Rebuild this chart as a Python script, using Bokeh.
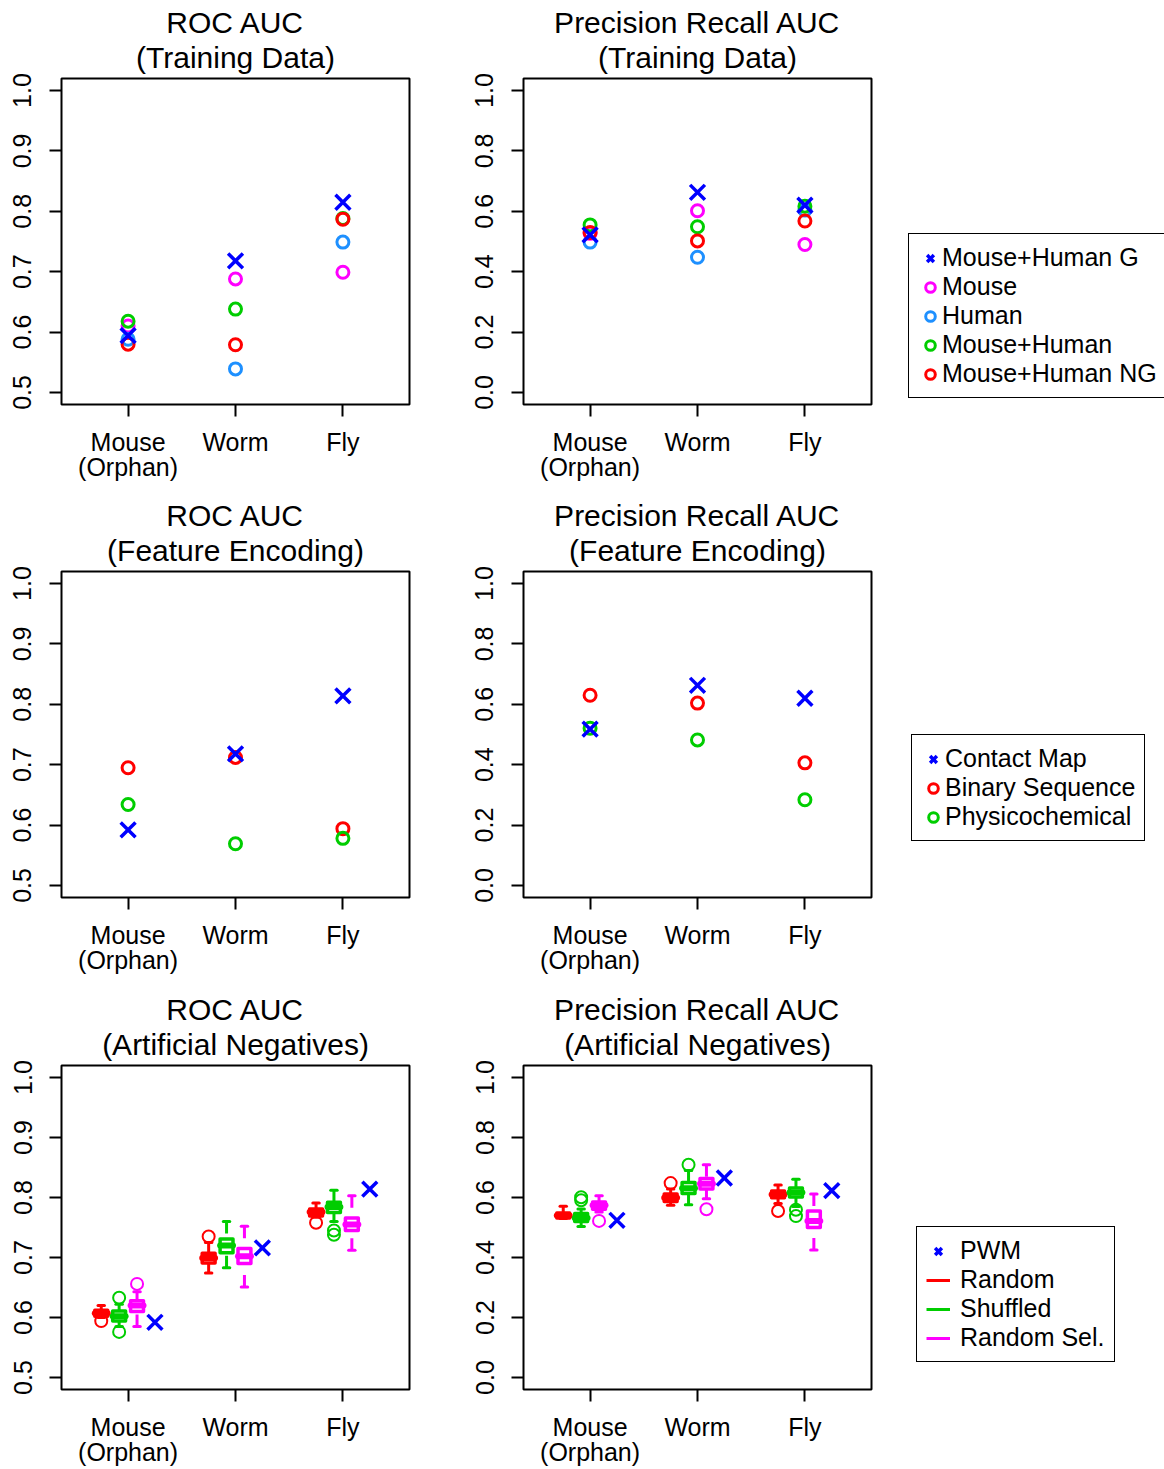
from bokeh.plotting import figure
from bokeh.models import Range1d, FixedTicker, Legend, LegendItem, ColumnDataSource, Title
from bokeh.layouts import column, row
from bokeh.embed import file_html
from bokeh.resources import INLINE

FONT = "Liberation Sans"

# ---------------- data ----------------
group_x = [1, 2, 3]
group_labels = ["Mouse\n(Orphan)", "Worm", "Fly"]

roc_ticks = [0.5, 0.6, 0.7, 0.8, 0.9, 1.0]
roc_tick_labels = ["0.5", "0.6", "0.7", "0.8", "0.9", "1.0"]
pr_ticks = [0.0, 0.2, 0.4, 0.6, 0.8, 1.0]
pr_tick_labels = ["0.0", "0.2", "0.4", "0.6", "0.8", "1.0"]

# Training data panels
train_names = ["Mouse+Human G", "Mouse", "Human", "Mouse+Human", "Mouse+Human NG"]
train_roc_mhg = [0.594, 0.718, 0.815]
train_roc_mouse = [0.610, 0.688, 0.699]
train_roc_human = [0.588, 0.539, 0.749]
train_roc_mh = [0.618, 0.638, 0.788]
train_roc_mhng = [0.580, 0.579, 0.787]

train_pr_mhg = [0.522, 0.663, 0.620]
train_pr_mouse = [0.527, 0.602, 0.490]
train_pr_human = [0.498, 0.448, 0.604]
train_pr_mh = [0.555, 0.549, 0.617]
train_pr_mhng = [0.530, 0.502, 0.568]

# Feature encoding panels
enc_names = ["Contact Map", "Binary Sequence", "Physicochemical"]
enc_roc_contact = [0.592, 0.718, 0.814]
enc_roc_binary = [0.695, 0.712, 0.594]
enc_roc_physico = [0.634, 0.569, 0.578]

enc_pr_contact = [0.518, 0.663, 0.620]
enc_pr_binary = [0.630, 0.604, 0.406]
enc_pr_physico = [0.521, 0.482, 0.284]

# Artificial negatives panels
art_names = ["PWM", "Random", "Shuffled", "Random Sel."]
art_roc_pwm = [0.592, 0.716, 0.814]
art_pr_pwm = [0.524, 0.665, 0.623]

# box statistics: lower whisker, Q1, median, Q3, upper whisker, outliers
roc_random_lw = [0.600, 0.674, 0.767]
roc_random_q1 = [0.602, 0.691, 0.769]
roc_random_med = [0.607, 0.699, 0.776]
roc_random_q3 = [0.612, 0.707, 0.781]
roc_random_uw = [0.620, 0.725, 0.791]
roc_random_out_group = [1, 2, 3]
roc_random_out_value = [0.594, 0.735, 0.758]

roc_shuffled_lw = [0.585, 0.683, 0.760]
roc_shuffled_q1 = [0.594, 0.708, 0.775]
roc_shuffled_med = [0.602, 0.720, 0.784]
roc_shuffled_q3 = [0.611, 0.731, 0.792]
roc_shuffled_uw = [0.622, 0.760, 0.812]
roc_shuffled_out_group = [1, 1, 3, 3]
roc_shuffled_out_value = [0.633, 0.576, 0.745, 0.738]

roc_randsel_lw = [0.585, 0.651, 0.712]
roc_randsel_q1 = [0.610, 0.690, 0.745]
roc_randsel_med = [0.620, 0.702, 0.755]
roc_randsel_q3 = [0.628, 0.715, 0.766]
roc_randsel_uw = [0.643, 0.752, 0.803]
roc_randsel_out_group = [1]
roc_randsel_out_value = [0.656]

pr_random_lw = [0.530, 0.574, 0.580]
pr_random_q1 = [0.532, 0.587, 0.599]
pr_random_med = [0.540, 0.599, 0.610]
pr_random_q3 = [0.548, 0.612, 0.622]
pr_random_uw = [0.571, 0.628, 0.642]
pr_random_out_group = [2, 3]
pr_random_out_value = [0.648, 0.555]

pr_shuffled_lw = [0.503, 0.576, 0.570]
pr_shuffled_q1 = [0.520, 0.613, 0.602]
pr_shuffled_med = [0.532, 0.631, 0.617]
pr_shuffled_q3 = [0.547, 0.650, 0.632]
pr_shuffled_uw = [0.562, 0.690, 0.661]
pr_shuffled_out_group = [1, 1, 2, 3, 3]
pr_shuffled_out_value = [0.601, 0.591, 0.709, 0.559, 0.538]

pr_randsel_lw = [0.552, 0.596, 0.425]
pr_randsel_q1 = [0.561, 0.628, 0.500]
pr_randsel_med = [0.574, 0.646, 0.522]
pr_randsel_q3 = [0.585, 0.663, 0.555]
pr_randsel_uw = [0.606, 0.709, 0.612]
pr_randsel_out_group = [1, 2]
pr_randsel_out_value = [0.522, 0.561]

# ---------------- styling ----------------
BLUE = "#0000FF"
MAGENTA = "#FF00FF"
DODGER = "#1E90FF"
GREEN = "#00CD00"
RED = "#FF0000"

FRAME_W = 348
FRAME_H = 326
COL_W = [470, 421]
LEFT_B = [61, 53]
LEG_W = 273
ROW_H = [493, 494, 482]
TOP_B = 78


def make_fig(col, r, title_top, title_sub, yr, ticks, tick_labels):
    width = COL_W[col]
    height = ROW_H[r]
    lb = LEFT_B[col]
    p = figure(width=width, height=height,
               x_range=Range1d(0.38, 3.62), y_range=Range1d(*yr),
               output_backend="svg", toolbar_location=None,
               min_border_left=lb, min_border_right=width - lb - FRAME_W,
               min_border_top=TOP_B, min_border_bottom=height - TOP_B - FRAME_H,
               background_fill_color="white", border_fill_color="white")
    p.title.text = title_top
    p.title.align = "center"
    p.title.text_font = FONT
    p.title.text_font_size = "30px"
    p.title.text_font_style = "normal"
    p.title.text_color = "black"
    p.title.standoff = -8
    p.add_layout(Title(text=title_sub, align="center", text_font=FONT,
                       text_font_size="30px", text_font_style="normal",
                       text_color="black", standoff=9), "above")
    p.xgrid.visible = False
    p.ygrid.visible = False
    p.outline_line_color = "black"
    p.outline_line_width = 2
    p.outline_line_alpha = 1
    for ax in (p.xaxis[0], p.yaxis[0]):
        ax.axis_line_color = None
        ax.major_tick_line_color = "black"
        ax.major_tick_line_width = 2
        ax.major_tick_out = 12
        ax.major_tick_in = 0
        ax.minor_tick_out = 0
        ax.minor_tick_in = 0
        ax.major_label_text_font = FONT
        ax.major_label_text_font_size = "25px"
        ax.major_label_text_color = "black"
    p.xaxis.ticker = FixedTicker(ticks=group_x)
    p.xaxis.major_label_overrides = {g: lab for g, lab in zip(group_x, group_labels)}
    p.xaxis.major_label_standoff = 11
    p.xaxis.major_label_text_line_height = 0.92
    p.yaxis.ticker = FixedTicker(ticks=ticks)
    p.yaxis.major_label_overrides = {t: lab for t, lab in zip(ticks, tick_labels)}
    p.yaxis.major_label_orientation = "vertical"
    p.yaxis.major_label_standoff = 18
    return p


def legend_fig(r):
    # legend-only panel: its ranges lie away from the data, so only the legend shows
    p = figure(width=LEG_W, height=ROW_H[r], x_range=Range1d(10, 11), y_range=Range1d(10, 11),
               x_axis_type=None, y_axis_type=None, output_backend="svg",
               toolbar_location=None, min_border=0,
               background_fill_color="white", border_fill_color="white")
    p.outline_line_color = None
    return p


CIRC = dict(marker="circle", size=12, fill_color=None, line_width=3)
CROSS = dict(marker="x", size=21, line_width=3.5)


def circles(p, ys, color):
    return p.scatter(x=group_x, y=ys, line_color=color, **CIRC)


def crosses(p, ys, color, offset=0.0):
    return p.scatter(x=[g + offset for g in group_x], y=ys, line_color=color, **CROSS)


def add_legend(p, items, loc, standoff=0):
    leg = Legend(items=items, location=loc, orientation="vertical",
                 border_line_color="black", border_line_width=1.5, border_line_alpha=1,
                 background_fill_color="white", background_fill_alpha=1,
                 padding=9, spacing=0, margin=0,
                 glyph_width=24, glyph_height=26, label_height=26,
                 label_standoff=standoff, label_text_font=FONT,
                 label_text_font_size="25px", label_text_line_height=1.0,
                 label_text_color="black")
    p.add_layout(leg, "center")


BOX_W = 0.12
STAPLE_W = 0.06


def boxes(p, offset, lw, q1, med, q3, uw, out_g, out_v, color):
    xs = [g + offset for g in group_x]
    src = ColumnDataSource(dict(
        x=xs,
        left=[v - BOX_W / 2 for v in xs], right=[v + BOX_W / 2 for v in xs],
        sl=[v - STAPLE_W / 2 for v in xs], sr=[v + STAPLE_W / 2 for v in xs],
        lw=lw, q1=q1, med=med, q3=q3, uw=uw))
    p.segment(x0="x", y0="uw", x1="x", y1="q3", source=src, line_color=color,
              line_width=3, line_dash="12 12")
    p.segment(x0="x", y0="lw", x1="x", y1="q1", source=src, line_color=color,
              line_width=3, line_dash="12 12")
    p.segment(x0="sl", y0="uw", x1="sr", y1="uw", source=src, line_color=color,
              line_width=3, line_cap="round")
    p.segment(x0="sl", y0="lw", x1="sr", y1="lw", source=src, line_color=color,
              line_width=3, line_cap="round")
    p.quad(left="left", right="right", bottom="q1", top="q3", source=src,
           fill_color="white", line_color=color, line_width=3.5, line_join="round")
    p.segment(x0="left", y0="med", x1="right", y1="med", source=src, line_color=color,
              line_width=6, line_cap="round")
    p.scatter(x=[g + offset for g in out_g], y=out_v, marker="circle", size=12,
              fill_color=None, line_color=color, line_width=2)


ROC_R = (0.48, 1.02)
PR_R = (-0.04, 1.04)

# ---------------- row 1: training data ----------------
p11 = make_fig(0, 0, "ROC AUC", "(Training Data)", ROC_R, roc_ticks, roc_tick_labels)
circles(p11, train_roc_mouse, MAGENTA)
circles(p11, train_roc_human, DODGER)
circles(p11, train_roc_mh, GREEN)
circles(p11, train_roc_mhng, RED)
crosses(p11, train_roc_mhg, BLUE)

p12 = make_fig(1, 0, "Precision Recall AUC", "(Training Data)", PR_R, pr_ticks, pr_tick_labels)
circles(p12, train_pr_mouse, MAGENTA)
circles(p12, train_pr_human, DODGER)
circles(p12, train_pr_mh, GREEN)
circles(p12, train_pr_mhng, RED)
crosses(p12, train_pr_mhg, BLUE)

l1 = legend_fig(0)
train_legend_renderers = [
    crosses(l1, train_pr_mhg, BLUE),
    circles(l1, train_pr_mouse, MAGENTA),
    circles(l1, train_pr_human, DODGER),
    circles(l1, train_pr_mh, GREEN),
    circles(l1, train_pr_mhng, RED),
]
add_legend(l1, [LegendItem(label=n, renderers=[r]) for n, r in
                zip(train_names, train_legend_renderers)], (17, 6))

# ---------------- row 2: feature encoding ----------------
p21 = make_fig(0, 1, "ROC AUC", "(Feature Encoding)", ROC_R, roc_ticks, roc_tick_labels)
circles(p21, enc_roc_binary, RED)
circles(p21, enc_roc_physico, GREEN)
crosses(p21, enc_roc_contact, BLUE)

p22 = make_fig(1, 1, "Precision Recall AUC", "(Feature Encoding)", PR_R, pr_ticks, pr_tick_labels)
circles(p22, enc_pr_binary, RED)
circles(p22, enc_pr_physico, GREEN)
crosses(p22, enc_pr_contact, BLUE)

l2 = legend_fig(1)
enc_legend_renderers = [
    crosses(l2, enc_pr_contact, BLUE),
    circles(l2, enc_pr_binary, RED),
    circles(l2, enc_pr_physico, GREEN),
]
add_legend(l2, [LegendItem(label=n, renderers=[r]) for n, r in
                zip(enc_names, enc_legend_renderers)], (20, 56))

# ---------------- row 3: artificial negatives ----------------
OFF = [-0.25, -1 / 12, 1 / 12, 0.25]

p31 = make_fig(0, 2, "ROC AUC", "(Artificial Negatives)", ROC_R, roc_ticks, roc_tick_labels)
boxes(p31, OFF[0], roc_random_lw, roc_random_q1, roc_random_med, roc_random_q3,
      roc_random_uw, roc_random_out_group, roc_random_out_value, RED)
boxes(p31, OFF[1], roc_shuffled_lw, roc_shuffled_q1, roc_shuffled_med, roc_shuffled_q3,
      roc_shuffled_uw, roc_shuffled_out_group, roc_shuffled_out_value, GREEN)
boxes(p31, OFF[2], roc_randsel_lw, roc_randsel_q1, roc_randsel_med, roc_randsel_q3,
      roc_randsel_uw, roc_randsel_out_group, roc_randsel_out_value, MAGENTA)
crosses(p31, art_roc_pwm, BLUE, OFF[3])

p32 = make_fig(1, 2, "Precision Recall AUC", "(Artificial Negatives)", PR_R, pr_ticks, pr_tick_labels)
boxes(p32, OFF[0], pr_random_lw, pr_random_q1, pr_random_med, pr_random_q3,
      pr_random_uw, pr_random_out_group, pr_random_out_value, RED)
boxes(p32, OFF[1], pr_shuffled_lw, pr_shuffled_q1, pr_shuffled_med, pr_shuffled_q3,
      pr_shuffled_uw, pr_shuffled_out_group, pr_shuffled_out_value, GREEN)
boxes(p32, OFF[2], pr_randsel_lw, pr_randsel_q1, pr_randsel_med, pr_randsel_q3,
      pr_randsel_uw, pr_randsel_out_group, pr_randsel_out_value, MAGENTA)
crosses(p32, art_pr_pwm, BLUE, OFF[3])

l3 = legend_fig(2)
art_legend_renderers = [
    crosses(l3, art_pr_pwm, BLUE),
    l3.line(x=group_x, y=pr_random_med, line_color=RED, line_width=3),
    l3.line(x=group_x, y=pr_shuffled_med, line_color=GREEN, line_width=3),
    l3.line(x=group_x, y=pr_randsel_med, line_color=MAGENTA, line_width=3),
]
add_legend(l3, [LegendItem(label=n, renderers=[r]) for n, r in
                zip(art_names, art_legend_renderers)], (25, 27), standoff=10)

layout = column(row(p11, p12, l1), row(p21, p22, l2), row(p31, p32, l3))

with open("out.html", "w") as f:
    f.write(file_html(layout, INLINE))
